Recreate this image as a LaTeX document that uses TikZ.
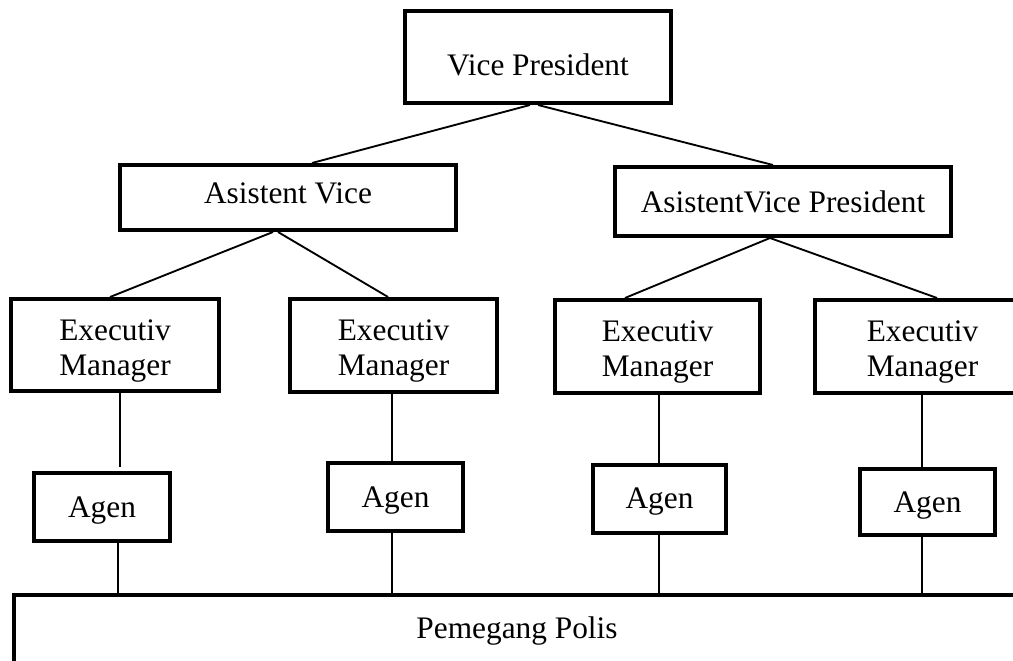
\documentclass[tikz,border=0pt]{standalone}
\usepackage{fontspec}
\setmainfont{Liberation Serif}
\tikzset{
  orgbox/.style={draw, line width=3pt, inner sep=0pt, align=center,
    font=\fontsize{23.5}{26.25}\selectfont, text depth=5pt},
  twoline/.style={text height=50pt, text depth=5pt},
  link/.style={line width=1.4pt}
}
\begin{document}
\begin{tikzpicture}[x=0.75pt, y=-0.75pt]
\useasboundingbox (0,0) rectangle (1013,660);
\clip (0,0) rectangle (1013,660);
% boxes
\node[orgbox, text height=32pt, minimum width=199.5pt, minimum height=69pt] (vp) at (538,57) {Vice President};
\node[orgbox, text height=14pt, minimum width=252pt, minimum height=48.75pt] (av) at (288,197.5) {Asistent Vice};
\node[orgbox, text height=20.75pt, minimum width=252pt, minimum height=51.75pt] (avp) at (783,201.5) {AsistentVice President};
\node[orgbox, twoline, minimum width=156pt, minimum height=69pt] (em1) at (115,345) {Executiv\\Manager};
\node[orgbox, twoline, minimum width=155.25pt, minimum height=69.75pt] (em2) at (393.5,345.5) {Executiv\\Manager};
\node[orgbox, twoline, minimum width=153.75pt, minimum height=69.75pt] (em3) at (657.5,346.5) {Executiv\\Manager};
\node[orgbox, twoline, minimum width=161.25pt, minimum height=69.75pt] (em4) at (922.5,346.5) {Executiv\\Manager};
\node[orgbox, text height=20pt, minimum width=102pt, minimum height=51pt] (ag1) at (102,507) {Agen};
\node[orgbox, text height=20pt, minimum width=101.25pt, minimum height=51pt] (ag2) at (395.5,497) {Agen};
\node[orgbox, text height=18.5pt, minimum width=99.75pt, minimum height=51pt] (ag3) at (659.5,499) {Agen};
\node[orgbox, text height=20pt, minimum width=101.25pt, minimum height=49.5pt] (ag4) at (927.5,502) {Agen};
\node[orgbox, text height=14.75pt, minimum width=754.5pt, minimum height=54.75pt] (pem) at (517,631.5) {Pemegang Polis};
% connectors
\draw[link] ([xshift=-6pt]vp.south) -- ([xshift=18pt]av.north);
\draw[link] (vp.south) -- ([xshift=-7.5pt]avp.north);
\draw[link] ([xshift=-11.25pt]av.south) -- ([xshift=-3.75pt]em1.north);
\draw[link] ([xshift=-7.5pt]av.south) -- ([xshift=-4.1pt]em2.north);
\draw[link] ([xshift=-9.75pt]avp.south) -- ([xshift=-24.4pt]em3.north);
\draw[link] ([xshift=-9.75pt]avp.south) -- ([xshift=10.9pt]em4.north);
\draw[link] ([xshift=3.75pt]em1.south) -- ([xshift=13.5pt,yshift=3pt]ag1.north);
\draw[link] ([xshift=12pt]ag1.south) -- ([xshift=-299.25pt]pem.north);
\draw[link] ([xshift=-1.125pt]em2.south) -- ([xshift=-2.625pt]ag2.north);
\draw[link] ([xshift=-2.625pt]ag2.south) -- ([xshift=-93.75pt]pem.north);
\draw[link] ([xshift=1.125pt]em3.south) -- ([xshift=-0.375pt]ag3.north);
\draw[link] ([xshift=-0.375pt]ag3.south) -- ([xshift=106.5pt]pem.north);
\draw[link] ([xshift=-0.375pt]em4.south) -- ([xshift=-4.125pt]ag4.north);
\draw[link] ([xshift=-4.125pt]ag4.south) -- ([xshift=303.75pt]pem.north);
\end{tikzpicture}
\end{document}
